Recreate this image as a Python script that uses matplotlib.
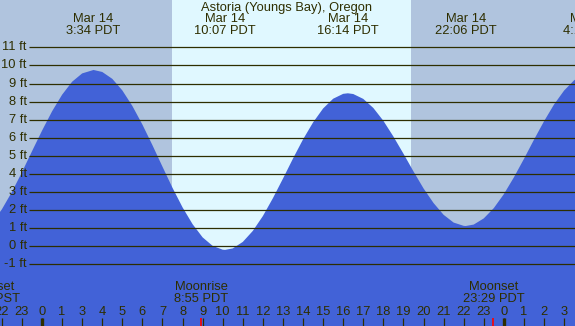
import matplotlib
matplotlib.use("Agg")
import matplotlib.pyplot as plt

# hours elapsed since midnight Mar 14 (PST clock; DST starts at 2:00)
hours = [-2.5, -2.0, -1.5, -1.0, -0.5, 0.0, 0.5, 1.0, 1.5, 2.0, 2.567,
         3.0, 3.5, 4.0, 4.5, 5.0, 5.5, 6.0, 6.5, 7.0, 7.5, 8.0, 8.5, 9.0, 9.117,
         9.5, 10.0, 10.5, 11.0, 11.5, 12.0, 12.5, 13.0, 13.5, 14.0, 14.5, 15.0, 15.233,
         15.5, 16.0, 16.5, 17.0, 17.5, 18.0, 18.5, 19.0, 19.5, 20.0, 20.5, 21.0, 21.1,
         21.5, 22.0, 22.5, 23.0, 23.5, 24.0, 24.5, 25.0, 25.5, 26.0, 26.5, 27.0]
heights = [1.28, 2.04, 3.00, 4.09, 5.25, 6.39, 7.46, 8.38, 9.10, 9.56, 9.75,
           9.64, 9.26, 8.62, 7.76, 6.73, 5.59, 4.40, 3.23, 2.15, 1.22, 0.49, 0.02, -0.19, -0.20,
           -0.12, 0.24, 0.85, 1.67, 2.66, 3.74, 4.85, 5.91, 6.85, 7.62, 8.16, 8.43, 8.46,
           8.42, 8.15, 7.65, 6.94, 6.07, 5.12, 4.14, 3.20, 2.39, 1.74, 1.31, 1.13, 1.12,
           1.20, 1.54, 2.11, 2.88, 3.81, 4.83, 5.89, 6.91, 7.84, 8.61, 9.18, 9.52]

# high / low tide labels
tide_hours = [2.567, 9.117, 15.233, 21.1, 27.283]
tide_dates = ["Mar 14", "Mar 14", "Mar 14", "Mar 14", "Mar 15"]
tide_times = ["3:34 PDT", "10:07 PDT", "16:14 PDT", "22:06 PDT", "4:17 PDT"]

# moon events
moon_hours = [-2.62, 7.917, 22.483]
moon_names = ["Moonset", "Moonrise", "Moonset"]
moon_times = ["21:23 PST", "8:55 PDT", "23:29 PDT"]

sunrise, sunset = 6.47, 18.38

tick_hours = list(range(-2, 27))
tick_labels = ["22", "23", "0", "1"] + [str(h) for h in range(3, 24)] + ["0", "1", "2", "3"]
midnights = [0, 23]

ft_levels = list(range(-1, 12))

night = "#B0C4DE"
day = "#E0F8FF"
water = "#4262D7"
ink = "#2E2E00"

plt.rcParams["font.family"] = ["Liberation Sans", "DejaVu Sans"]
fs = 9.3

fig = plt.figure(figsize=(5.75, 3.26), dpi=100, facecolor=night)
ax = fig.add_axes([0, 0, 1, 1])
ax.set_facecolor(night)
ax.axis("off")
ax.set_xlim(-2.092, 26.544)
ax.set_ylim(-4.41, 13.62)

ax.axvspan(sunrise, sunset, color=day, lw=0, zorder=0)
ax.fill_between(hours, heights, -10, color=water, lw=0, zorder=1)

ax.hlines(ft_levels, -0.65, 27, color=ink, lw=0.9, zorder=2)
for f in ft_levels:
    ax.text(-0.76, f, f"{f} ft", ha="right", va="center", fontsize=fs, color=ink)

xt = ax.get_xaxis_transform()
H = 326.0

ax.text(0.498, 1 - 7.5 / H, "Astoria (Youngs Bay), Oregon", transform=ax.transAxes,
        ha="center", va="center", fontsize=fs, color=ink)
for h, d, t in zip(tide_hours, tide_dates, tide_times):
    ax.text(h, 1 - 19 / H, d, transform=xt, ha="center", va="center", fontsize=fs, color=ink)
    ax.text(h, 1 - 31.5 / H, t, transform=xt, ha="center", va="center", fontsize=fs, color=ink)

for h, n, t in zip(moon_hours, moon_names, moon_times):
    ax.text(h, 1 - 287.5 / H, n, transform=xt, ha="center", va="center", fontsize=fs, color=ink)
    ax.text(h, 1 - 298.5 / H, t, transform=xt, ha="center", va="center", fontsize=fs, color=ink)
    ax.vlines(h, 0, 8 / H, transform=xt, color="red", lw=1.2, zorder=3)

for h, lab in zip(tick_hours, tick_labels):
    ax.text(h, 1 - 312 / H, lab, transform=xt, ha="center", va="center", fontsize=fs, color=ink)
ax.vlines(tick_hours, 0, 8 / H, transform=xt, color=ink, lw=0.9, zorder=3)
ax.vlines(midnights, 0, 8 / H, transform=xt, color=ink, lw=2.4, zorder=3)

fig.savefig("out.png", dpi=100, facecolor=night)
